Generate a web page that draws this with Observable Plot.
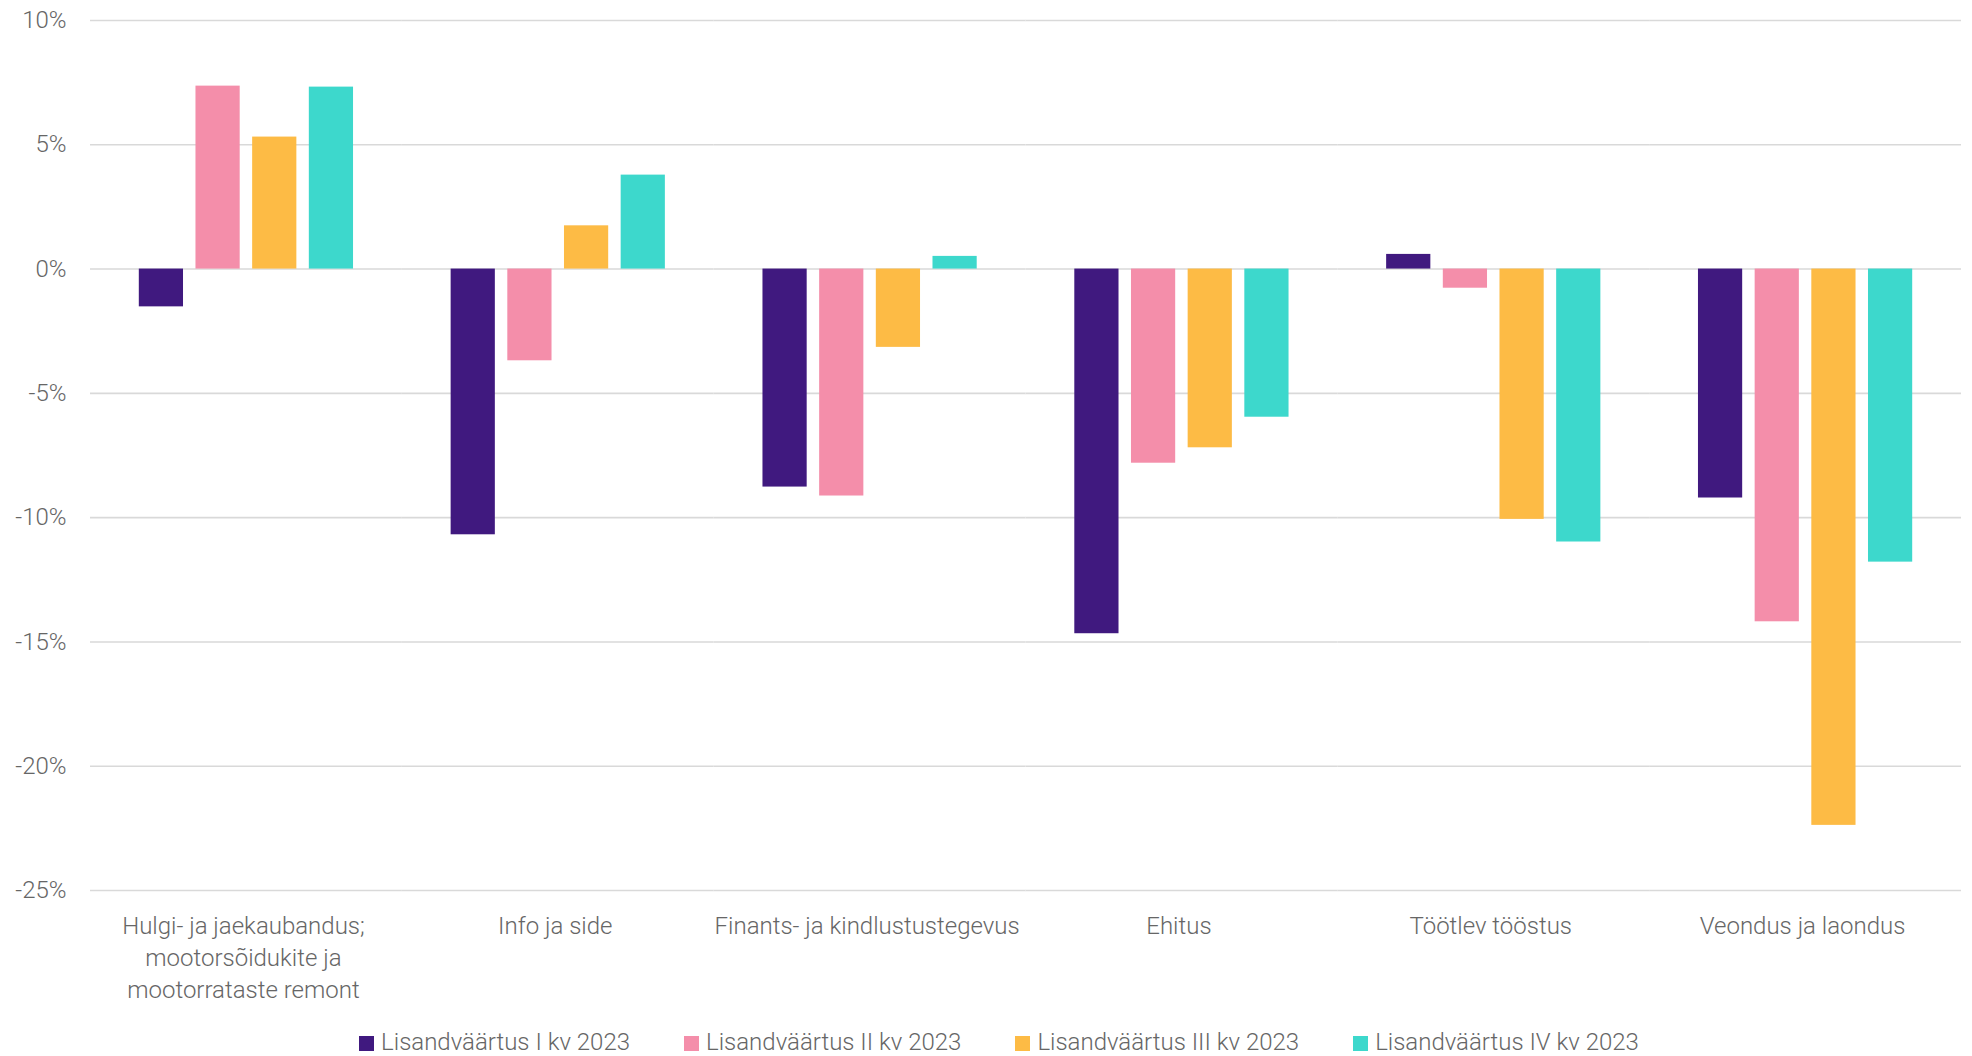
<!DOCTYPE html>
<html>
<head>
<meta charset="utf-8">
<script src="https://cdn.jsdelivr.net/npm/d3@7"></script>
<script src="https://cdn.jsdelivr.net/npm/@observablehq/plot@0.6"></script>
<style>
  html, body { margin: 0; padding: 0; background: #fff; }
  body { width: 1972px; height: 1056px; overflow: hidden; font-family: Roboto, "Noto Sans", sans-serif; }
  #chart svg { display: block; }
  #legend { display: flex; justify-content: center; gap: 54px; margin-top: 20px; padding-left: 26px;
            font-family: Roboto, sans-serif; font-weight: 300; font-size: 24px; line-height: 24px; color: #666; }
  .item { display: flex; align-items: center; white-space: nowrap; }
  .sw { width: 15px; height: 15px; margin-right: 7px; margin-top: 3px; }
</style>
</head>
<body>
<div id="chart"></div>
<div id="legend"></div>
<script>
const categories = [
  "Hulgi- ja jaekaubandus; mootorsõidukite ja mootorrataste remont",
  "Info ja side",
  "Finants- ja kindlustustegevus",
  "Ehitus",
  "Töötlev tööstus",
  "Veondus ja laondus"
];
const categoryLabels = [
  "Hulgi- ja jaekaubandus;\nmootorsõidukite ja\nmootorrataste remont",
  "Info ja side",
  "Finants- ja kindlustustegevus",
  "Ehitus",
  "Töötlev tööstus",
  "Veondus ja laondus"
];
const series = [
  "Lisandväärtus I kv 2023",
  "Lisandväärtus II kv 2023",
  "Lisandväärtus III kv 2023",
  "Lisandväärtus IV kv 2023"
];
const colors = ["#40197f", "#f48eaa", "#fdbb45", "#3dd8cc"];
const q1 = [-1.52, -10.69, -8.77, -14.67, 0.59, -9.21];
const q2 = [7.36, -3.69, -9.13, -7.81, -0.77, -14.19];
const q3 = [5.31, 1.74, -3.15, -7.19, -10.07, -22.38];
const q4 = [7.32, 3.78, 0.51, -5.96, -10.98, -11.79];
const yTicks = [-25, -20, -15, -10, -5, 0, 5, 10];

const values = [q1, q2, q3, q4];
const data = [];
categories.forEach((c, i) => series.forEach((s, j) => data.push({category: c, series: s, value: values[j][i]})));

const W = 1972, H = 1010, mL = 90, mR = 11;
const fxPadInner = 0.313, fxPadOuter = fxPadInner / 2;
const step = (W - mL - mR) / categories.length;
const gap = fxPadInner * step / 2; // half the gap between facets
const firstFacetLeft = mL + fxPadOuter * step;
const labelMap = new Map(categories.map((c, i) => [c, categoryLabels[i]]));

const chart = Plot.plot({
  width: W,
  height: H,
  marginLeft: mL,
  marginRight: mR,
  marginTop: 20,
  marginBottom: H - 890,
  style: {fontFamily: "Roboto, sans-serif", fontSize: "24px", fontWeight: 300, color: "#666", background: "#fff"},
  fx: {domain: categories, paddingInner: fxPadInner, paddingOuter: fxPadOuter, round: false, label: null},
  x: {domain: series, paddingInner: 0.22, paddingOuter: 0, round: false, axis: null},
  y: {domain: [-25, 10], label: null},
  color: {domain: series, range: colors},
  marks: [
    Plot.ruleY(yTicks, {stroke: "#d9d9d9", strokeWidth: 1.6, insetLeft: -gap, insetRight: -gap}),
    Plot.barY(data, {fx: "category", x: "series", y: "value", fill: "series"}),
    Plot.axisY({ticks: yTicks, tickSize: 0, tickPadding: firstFacetLeft - 66, tickFormat: d => `${d}%`, label: null}),
    Plot.axisFx({anchor: "bottom", tickSize: 0, tickPadding: 21, dx: -3, label: null, lineHeight: 1.33,
                 tickFormat: d => labelMap.get(d)})
  ]
});
document.getElementById("chart").appendChild(chart);

const legend = document.getElementById("legend");
series.forEach((s, i) => {
  const it = document.createElement("div");
  it.className = "item";
  const sw = document.createElement("span");
  sw.className = "sw";
  sw.style.background = colors[i];
  it.appendChild(sw);
  it.appendChild(document.createTextNode(s));
  legend.appendChild(it);
});
</script>
</body>
</html>
